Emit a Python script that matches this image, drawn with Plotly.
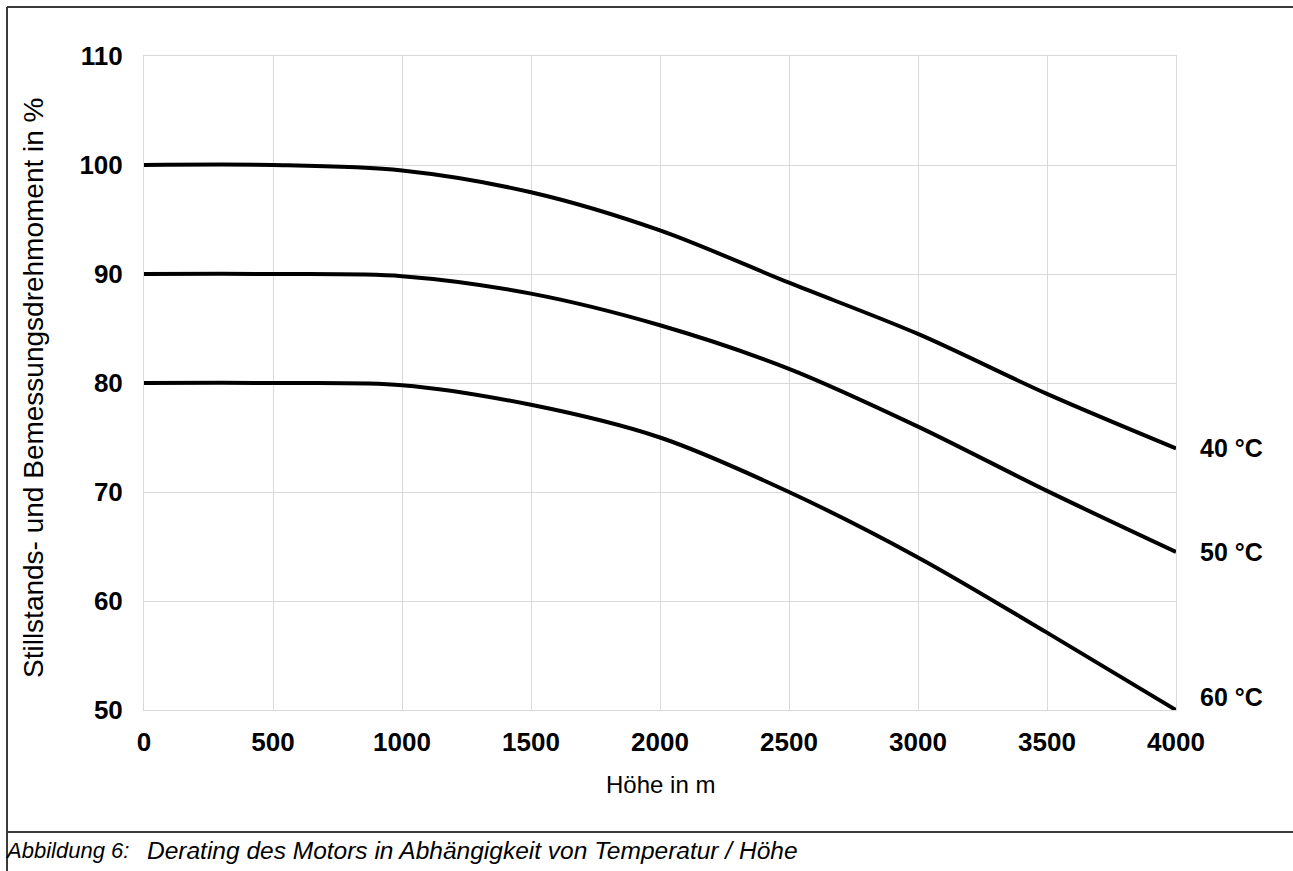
import plotly.graph_objects as go

# Altitude (m) and derating of standstill/rated torque (%) per ambient temperature
hoehe = [0, 500, 1000, 1500, 2000, 2500, 3000, 3500, 4000]
derating_40 = [100, 100, 99.5, 97.5, 94.0, 89.2, 84.5, 79.0, 74.0]
derating_50 = [90, 90, 89.8, 88.2, 85.3, 81.3, 76.0, 70.1, 64.5]
derating_60 = [80, 80, 79.8, 78.0, 75.0, 70.0, 64.0, 57.1, 50.0]
kurven = [("40 °C", derating_40, 0), ("50 °C", derating_50, 0), ("60 °C", derating_60, 13)]

x_ticks = [0, 500, 1000, 1500, 2000, 2500, 3000, 3500, 4000]
y_ticks = [50, 60, 70, 80, 90, 100, 110]

FONT = "Arial, Liberation Sans, sans-serif"
W, H = 1293, 871
L, R, T, B = 144, 1176, 56, 710  # plot area in pixels


def px(xp):
    return (xp - L) / (R - L)


def py(yp):
    return (B - yp) / (B - T)


fig = go.Figure()
for name, werte, shift in kurven:
    fig.add_trace(go.Scatter(
        x=hoehe, y=werte, mode="lines", name=name,
        line=dict(color="black", width=4, shape="spline", smoothing=0.9),
        showlegend=False, hoverinfo="skip",
    ))
    fig.add_annotation(
        x=hoehe[-1], y=werte[-1], text=f"<b>{name}</b>", showarrow=False,
        xanchor="left", yanchor="middle", xshift=22, yshift=shift,
        font=dict(family=FONT, size=25, color="black"),
    )

axis_common = dict(
    showgrid=True, gridcolor="#d9d9d9", gridwidth=1,
    showline=True, linecolor="#d9d9d9", linewidth=1, mirror=True,
    zeroline=False, ticks="", tickfont=dict(family=FONT, size=26, color="black", weight="bold"),
)
fig.update_xaxes(range=[0, 4000], tickvals=x_ticks, ticklabelstandoff=9, **axis_common)
fig.update_yaxes(range=[50, 110], tickvals=y_ticks, ticklabelstandoff=15, **axis_common)

# Axis titles
fig.add_annotation(
    xref="paper", yref="paper", x=px(33), y=py(388), textangle=-90,
    text="Stillstands- und Bemessungsdrehmoment in %", showarrow=False,
    xanchor="center", yanchor="middle", font=dict(family=FONT, size=28, color="black"),
)
fig.add_annotation(
    xref="paper", yref="paper", x=0.5, y=py(784),
    text="Höhe in m", showarrow=False, xanchor="center", yanchor="middle",
    font=dict(family=FONT, size=24, color="black"),
)

# Figure caption
fig.add_annotation(
    xref="paper", yref="paper", x=px(3), y=py(850), text="<i>Abbildung 6:</i>",
    showarrow=False, xanchor="left", yanchor="middle",
    font=dict(family=FONT, size=22, color="black"),
)
fig.add_annotation(
    xref="paper", yref="paper", x=px(145), y=py(850),
    text="<i>Derating des Motors in Abhängigkeit von Temperatur / Höhe</i>",
    showarrow=False, xanchor="left", yanchor="middle",
    font=dict(family=FONT, size=24.5, color="black"),
)

# Frame around the figure and caption separator
frame = dict(color="#3a3a3a", width=2)
fig.add_shape(type="line", xref="paper", yref="paper", x0=px(7), x1=px(W), y0=py(7), y1=py(7), line=frame)
fig.add_shape(type="line", xref="paper", yref="paper", x0=px(7), x1=px(7), y0=py(7), y1=py(H), line=frame)
fig.add_shape(type="line", xref="paper", yref="paper", x0=px(7), x1=px(W), y0=py(832), y1=py(832), line=frame)

fig.update_layout(
    width=W, height=H,
    margin=dict(l=L, r=W - R, t=T, b=H - B),
    paper_bgcolor="white", plot_bgcolor="white",
)

fig.write_html("out.html")
